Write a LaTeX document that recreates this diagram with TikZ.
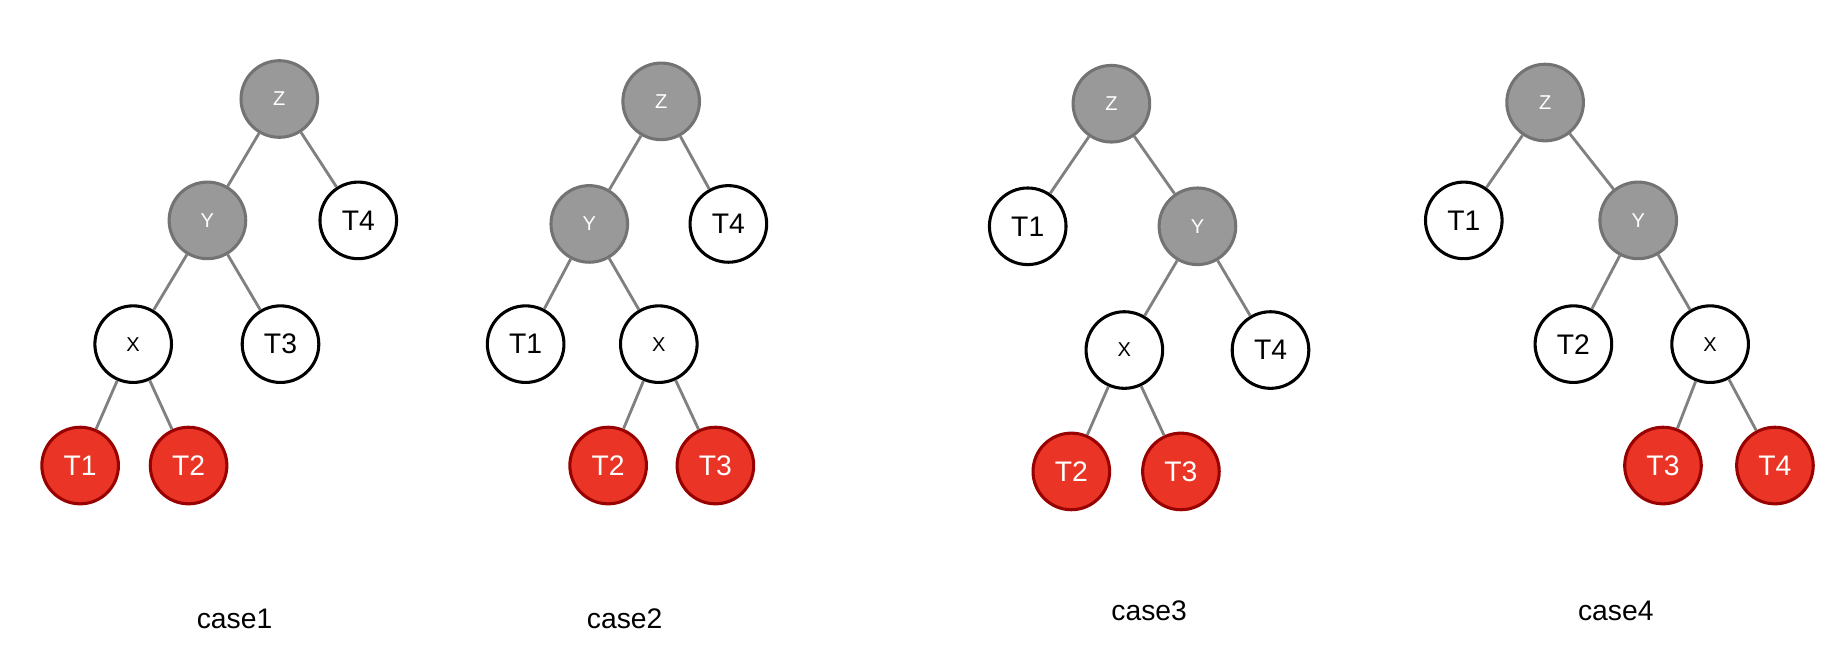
\documentclass[tikz,border=0pt]{standalone}
\usepackage{fontspec}
\setmainfont{Liberation Sans}
\begin{document}
\begin{tikzpicture}[x=1pt,y=-1pt,
  nd/.style={circle,minimum size=65pt,inner sep=0pt,line width=2.6pt},
  wh/.style={nd,draw=black,fill=white,font=\fontsize{24}{26}\selectfont},
  wx/.style={nd,draw=black,fill=white,font=\fontsize{17}{19}\selectfont},
  gr/.style={nd,draw=gray!90!black,fill=gray!80,text=white,font=\fontsize{17}{19}\selectfont},
  rd/.style={nd,draw=red!60!black,fill={rgb,255:red,233;green,52;blue,38},text=white,font=\fontsize{24}{26}\selectfont},
  ed/.style={draw=gray,line width=2.4pt},
  lb/.style={font=\fontsize{24}{26}\selectfont}]
\useasboundingbox (0,0) rectangle (1568,560);
% case1
\node[gr] (aZ) at (237,84) {Z};
\node[gr] (aY) at (176,187) {Y};
\node[wh] (a4) at (304,187) {T4};
\node[wx] (aX) at (113,292) {X};
\node[wh] (a3) at (238,292) {T3};
\node[rd] (a1) at (68,395) {T1};
\node[rd] (a2) at (160,395) {T2};
\draw[ed] (aZ)--(aY) (aZ)--(a4) (aY)--(aX) (aY)--(a3) (aX)--(a1) (aX)--(a2);
\node[lb] (la) at (199,525) {case1};
% case2
\node[gr] (bZ) at (561,86) {Z};
\node[gr] (bY) at (500,190) {Y};
\node[wh] (b4) at (618,190) {T4};
\node[wh] (b1) at (446,292) {T1};
\node[wx] (bX) at (559,292) {X};
\node[rd] (b2) at (516,395) {T2};
\node[rd] (b3) at (607,395) {T3};
\draw[ed] (bZ)--(bY) (bZ)--(b4) (bY)--(b1) (bY)--(bX) (bX)--(b2) (bX)--(b3);
\node[lb] (lb) at (530,525) {case2};
% case3
\node[gr] (cZ) at (943,88) {Z};
\node[wh] (c1) at (872,192) {T1};
\node[gr] (cY) at (1016,192) {Y};
\node[wx] (cX) at (954,297) {X};
\node[wh] (c4) at (1078,297) {T4};
\node[rd] (c2) at (909,400) {T2};
\node[rd] (c3) at (1002,400) {T3};
\draw[ed] (cZ)--(c1) (cZ)--(cY) (cY)--(cX) (cY)--(c4) (cX)--(c2) (cX)--(c3);
\node[lb] (lc) at (975,518) {case3};
% case4
\node[gr] (dZ) at (1311,87) {Z};
\node[wh] (d1) at (1242,187) {T1};
\node[gr] (dY) at (1390,187) {Y};
\node[wh] (d2) at (1335,292) {T2};
\node[wx] (dX) at (1451,292) {X};
\node[rd] (d3) at (1411,395) {T3};
\node[rd] (d4) at (1506,395) {T4};
\draw[ed] (dZ)--(d1) (dZ)--(dY) (dY)--(d2) (dY)--(dX) (dX)--(d3) (dX)--(d4);
\node[lb] (ld) at (1371,518) {case4};
\end{tikzpicture}
\end{document}
